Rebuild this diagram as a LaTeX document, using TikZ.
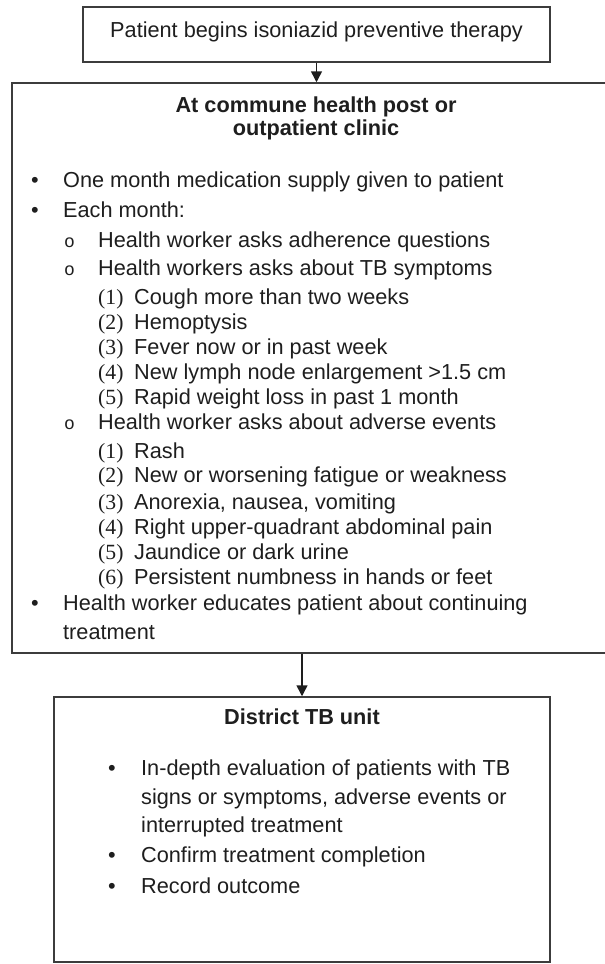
\documentclass[tikz,border=0pt]{standalone}
\usepackage{fontspec}
\setmainfont{Liberation Sans}
\newfontfamily\numfont{Liberation Serif}
\newfontfamily\monofnt{Liberation Mono}
\usetikzlibrary{arrows.meta}
\definecolor{ink}{HTML}{1E1E1E}
\definecolor{edge}{HTML}{3C3C3C}
\tikzset{
  boxline/.style={draw=edge, line width=1.5pt, fill=none, inner sep=0pt},
  txt/.style={inner sep=0pt, anchor=base west, text=ink, font=\fontsize{21.7}{25}\selectfont},
  ttl/.style={inner sep=0pt, anchor=base, text=ink, font=\fontsize{21.7}{25}\selectfont\bfseries},
  num/.style={inner sep=0pt, anchor=base west, text=ink, font=\fontsize{21.7}{25}\numfont},
  subb/.style={inner sep=0pt, anchor=base west, text=ink, font=\fontsize{18}{25}\monofnt},
  arr/.style={draw=ink, line width=1.5pt, -{Triangle[length=11pt,width=11pt]}}
}
\begin{document}
\begin{tikzpicture}[x=1pt,y=-1pt]
\useasboundingbox (0,0) rectangle (605,964);
% boxes
\node[boxline, minimum width=467pt, minimum height=55pt] (top) at (316.5,34.5) {};
\node[boxline, minimum width=603pt, minimum height=570pt] (big) at (313.5,368) {};
\node[boxline, minimum width=496pt, minimum height=265pt] (bot) at (302,829.5) {};
% top text
\node[inner sep=0pt, text=ink, font=\fontsize{21.7}{25}\selectfont, anchor=base] (toptxt) at (316.5,37) {Patient begins isoniazid preventive therapy};
% arrows
\draw[arr] (top.south) -- (big.north -| top.south);
\draw[arr] (big.south -| bot.north) -- (bot.north);
% big box title
\node[ttl] (t1) at (316,112) {At commune health post or};
\node[ttl] (t2) at (316,135) {outpatient clinic};
% bullets level 1
\node[txt] (b1) at (31,187) {•};
\node[txt] (l1) at (63,187) {One month medication supply given to patient};
\node[txt] (b2) at (31,217) {•};
\node[txt] (l2) at (63,217) {Each month:};
% level 2
\node[subb] (c1) at (64,247) {o};
\node[txt] (l3) at (98,247) {Health worker asks adherence questions};
\node[subb] (c2) at (64,275) {o};
\node[txt] (l4) at (98,275) {Health workers asks about TB symptoms};
\node[num] (n11) at (98,304) {(1)};
\node[txt] (s11) at (134,304) {Cough more than two weeks};
\node[num] (n12) at (98,329) {(2)};
\node[txt] (s12) at (134,329) {Hemoptysis};
\node[num] (n13) at (98,354) {(3)};
\node[txt] (s13) at (134,354) {Fever now or in past week};
\node[num] (n14) at (98,379) {(4)};
\node[txt] (s14) at (134,379) {New lymph node enlargement >1.5 cm};
\node[num] (n15) at (98,404) {(5)};
\node[txt] (s15) at (134,404) {Rapid weight loss in past 1 month};
\node[subb] (c3) at (64,429) {o};
\node[txt] (l5) at (98,429) {Health worker asks about adverse events};
\node[num] (n21) at (98,458) {(1)};
\node[txt] (s21) at (134,458) {Rash};
\node[num] (n22) at (98,482) {(2)};
\node[txt] (s22) at (134,482) {New or worsening fatigue or weakness};
\node[num] (n23) at (98,509) {(3)};
\node[txt] (s23) at (134,509) {Anorexia, nausea, vomiting};
\node[num] (n24) at (98,534) {(4)};
\node[txt] (s24) at (134,534) {Right upper-quadrant abdominal pain};
\node[num] (n25) at (98,559) {(5)};
\node[txt] (s25) at (134,559) {Jaundice or dark urine};
\node[num] (n26) at (98,584) {(6)};
\node[txt] (s26) at (134,584) {Persistent numbness in hands or feet};
\node[txt] (b3) at (31,610) {•};
\node[txt] (l6) at (63,610) {Health worker educates patient about continuing};
\node[txt] (l7) at (63,639) {treatment};
% bottom box
\node[ttl] (t3) at (302,724) {District TB unit};
\node[txt] (d1) at (108,775) {•};
\node[txt] (e1) at (141,775) {In-depth evaluation of patients with TB};
\node[txt] (e2) at (141,804) {signs or symptoms, adverse events or};
\node[txt] (e3) at (141,832) {interrupted treatment};
\node[txt] (d2) at (108,862) {•};
\node[txt] (e4) at (141,862) {Confirm treatment completion};
\node[txt] (d3) at (108,893) {•};
\node[txt] (e5) at (141,893) {Record outcome};
\end{tikzpicture}
\end{document}
